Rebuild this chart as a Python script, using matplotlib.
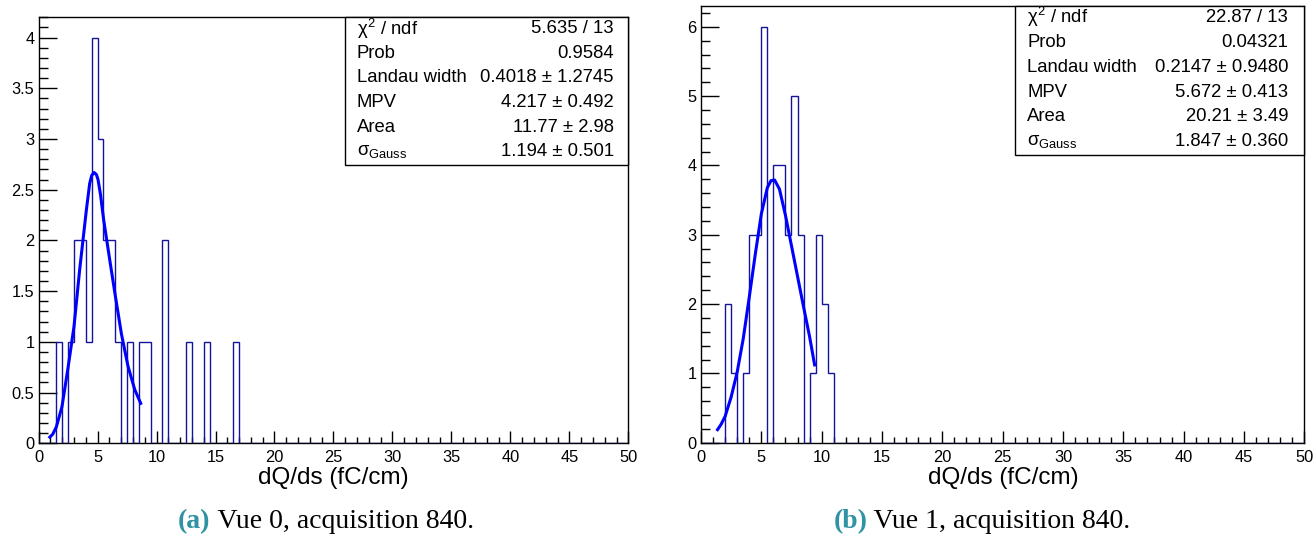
import numpy as np
import matplotlib
matplotlib.use("Agg")
import matplotlib.pyplot as plt
from matplotlib.ticker import MultipleLocator, FuncFormatter
from matplotlib.patches import Rectangle

plt.rcParams['font.family'] = ['Liberation Sans', 'DejaVu Sans']
plt.rcParams['mathtext.fontset'] = 'custom'
plt.rcParams['mathtext.rm'] = 'Liberation Sans'
plt.rcParams['mathtext.it'] = 'Liberation Sans'

# ---------------- data ----------------
bin_width = 0.5
x_range = (0, 50)

vue0_bin_low = [1.5, 2.5, 3.0, 3.5, 4.0, 4.5, 5.0, 5.5, 6.0, 6.5, 7.5, 8.5, 9.0, 10.5, 12.5, 14.0, 16.5]
vue0_counts = [1, 1, 2, 2, 1, 4, 3, 2, 2, 1, 1, 1, 1, 2, 1, 1, 1]

vue1_bin_low = [2.0, 2.5, 3.5, 4.0, 4.5, 5.0, 6.0, 6.5, 7.0, 7.5, 8.0, 9.0, 9.5, 10.0, 10.5]
vue1_counts = [2, 1, 1, 3, 3, 6, 4, 4, 3, 5, 3, 1, 3, 2, 1]

# fitted Landau (x) Gauss curves
vue0_fit_x = [0.86, 1.2, 1.5, 1.98, 2.49, 3.0, 3.48, 4.05, 4.33, 4.5, 4.70, 4.9, 5.04, 5.25, 5.52, 6.03, 6.51, 7.02, 7.58, 8.15, 8.71]
vue0_fit_y = [0.05, 0.09, 0.16, 0.36, 0.74, 1.15, 1.71, 2.30, 2.56, 2.64, 2.67, 2.65, 2.60, 2.45, 2.20, 1.81, 1.45, 1.08, 0.76, 0.53, 0.38]

vue1_fit_x = [1.30, 1.65, 2.0, 2.5, 3.0, 3.5, 4.0, 4.5, 5.0, 5.5, 5.8, 6.1, 6.5, 7.0, 7.5, 8.0, 8.5, 9.0, 9.44]
vue1_fit_y = [0.17, 0.26, 0.38, 0.66, 1.02, 1.50, 2.10, 2.72, 3.30, 3.68, 3.78, 3.79, 3.66, 3.28, 2.84, 2.40, 1.96, 1.53, 1.10]

stat_labels = [r'$\chi^{2}$ / ndf', 'Prob', 'Landau width', 'MPV', 'Area', r'$\sigma_{\rm Gauss}$']
vue0_stat_values = ['5.635 / 13', '0.9584', '0.4018 \u00b1 1.2745', '4.217 \u00b1 0.492',
                    '11.77 \u00b1 2.98', '1.194 \u00b1 0.501']
vue1_stat_values = ['22.87 / 13', '0.04321', '0.2147 \u00b1 0.9480', '5.672 \u00b1 0.413',
                    '20.21 \u00b1 3.49', '1.847 \u00b1 0.360']

x_label = 'dQ/ds (fC/cm)'
captions = [('(a)', 'Vue 0, acquisition 840.'), ('(b)', 'Vue 1, acquisition 840.')]

# ---------------- figure ----------------
W, H = 1314, 538
fig = plt.figure(figsize=(W / 100, H / 100), dpi=100)


def px_axes(x0, x1, ytop, ybot):
    return fig.add_axes([x0 / W, 1 - ybot / H, (x1 - x0) / W, (ybot - ytop) / H])


HIST_COLOR = '#14149a'
FIT_COLOR = '#0000ff'

panels = [
    dict(rect=(38.6, 628.3, 17.3, 443.3), ylim=4.2, ymaj=0.5, ymin=0.1,
         low=vue0_bin_low, counts=vue0_counts, fx=vue0_fit_x, fy=vue0_fit_y,
         vals=vue0_stat_values, box=(345, 17.3, 165.3), lab_x=356.7, val_x=614.0,
         cap_x=326, xl_x=333),
    dict(rect=(701.0, 1304.3, 6.0, 442.7), ylim=6.3, ymaj=1.0, ymin=0.2,
         low=vue1_bin_low, counts=vue1_counts, fx=vue1_fit_x, fy=vue1_fit_y,
         vals=vue1_stat_values, box=(1015, 6.0, 155.3), lab_x=1027.3, val_x=1288.3,
         cap_x=982, xl_x=1003),
]

edges = np.arange(x_range[0], x_range[1] + bin_width / 2, bin_width)
fmt = FuncFormatter(lambda v, p: ('%g' % v))

for i, P in enumerate(panels):
    x0, x1, yt, yb = P['rect']
    ax = px_axes(x0, x1, yt, yb)
    full = np.zeros(len(edges) - 1)
    for lo, c in zip(P['low'], P['counts']):
        full[int(round((lo - x_range[0]) / bin_width))] = c
    ax.stairs(full, edges, baseline=0, fill=False, color=HIST_COLOR, lw=1.0, zorder=3)
    ax.plot(P['fx'], P['fy'], color=FIT_COLOR, lw=2.2, zorder=4, solid_capstyle='butt')

    ax.set_xlim(*x_range)
    ax.set_ylim(0, P['ylim'])
    ax.xaxis.set_major_locator(MultipleLocator(5))
    ax.xaxis.set_minor_locator(MultipleLocator(1))
    ax.yaxis.set_major_locator(MultipleLocator(P['ymaj']))
    ax.yaxis.set_minor_locator(MultipleLocator(P['ymin']))
    ax.xaxis.set_major_formatter(fmt)
    ax.yaxis.set_major_formatter(fmt)
    ax.tick_params(which='both', direction='in', top=False, right=False, colors='black',
                   labelsize=11.8, width=1.0)
    ax.tick_params(axis='y', which='major', length=13, pad=3)
    ax.tick_params(axis='y', which='minor', length=6.5)
    ax.tick_params(axis='x', which='major', length=8.6, pad=5)
    ax.tick_params(axis='x', which='minor', length=4.3)
    for s in ax.spines.values():
        s.set_linewidth(1.0)
        s.set_color('black')

    # stats box
    bx0, btop, bbot = P['box']
    fx0 = (bx0 - x0) / (x1 - x0)
    fy0 = (yb - bbot) / (yb - yt)
    ax.add_patch(Rectangle((fx0, fy0), 1 - fx0, 1 - fy0, transform=ax.transAxes,
                           facecolor='white', edgecolor='black', lw=1.0, zorder=6,
                           clip_on=False))
    rh = (bbot - btop) / 6
    lx = (P['lab_x'] - x0) / (x1 - x0)
    vx = (P['val_x'] - x0) / (x1 - x0)
    for r, (lab, val) in enumerate(zip(stat_labels, P['vals'])):
        ypix = btop + rh * (r + 0.5) - 1.0
        fy = (yb - ypix) / (yb - yt)
        ax.text(lx, fy, lab, transform=ax.transAxes, ha='left', va='center',
                fontsize=13.3, zorder=7)
        ax.text(vx, fy, val, transform=ax.transAxes, ha='right', va='center',
                fontsize=13.3, zorder=7)

    # x label
    fig.text(P['xl_x'] / W, 1 - 478 / H, x_label, ha='center', va='center', fontsize=17.5)

# captions (label in teal + text in black), centred as a whole
renderer = fig.canvas.get_renderer()
for P, (tag, txt) in zip(panels, captions):
    t1 = fig.text(0, 1 - 528 / H, tag, ha='left', va='baseline', fontsize=20,
                  family=['Liberation Serif'], color='#2f93a3', fontweight='bold')
    t2 = fig.text(0, 1 - 528 / H, ' ' + txt, ha='left', va='baseline', fontsize=20,
                  family=['Liberation Serif'], color='black')
    w1 = t1.get_window_extent(renderer).width
    w2 = t2.get_window_extent(renderer).width
    start = P['cap_x'] - (w1 + w2) / 2
    t1.set_x(start / W)
    t2.set_x((start + w1) / W)

fig.savefig('out.png', dpi=100)
